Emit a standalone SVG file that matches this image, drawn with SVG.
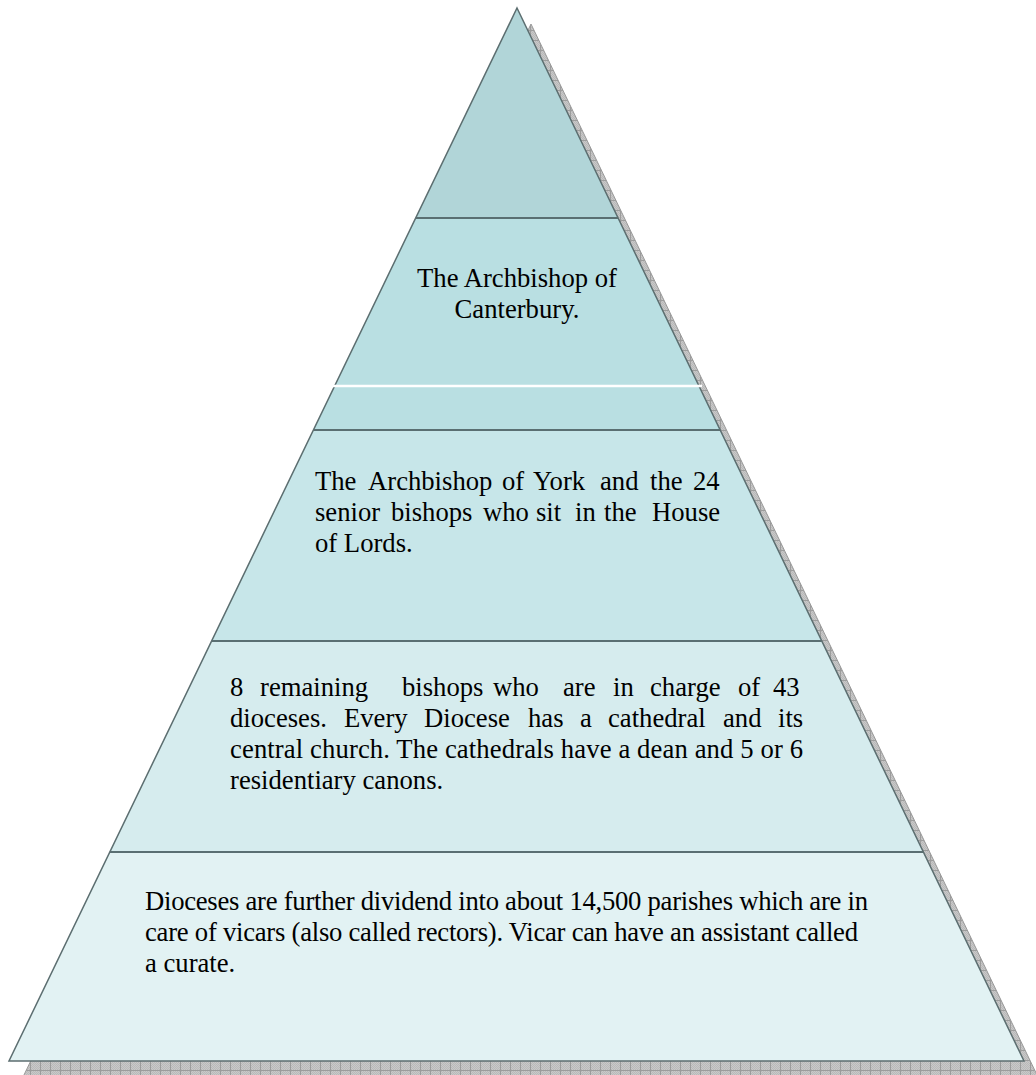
<svg xmlns="http://www.w3.org/2000/svg" width="1036" height="1075" viewBox="0 0 1036 1075">
<style>
.t{font-family:"Liberation Serif","Times New Roman",serif;font-size:26.67px;fill:#000}
.div{stroke:#5a6f72;stroke-width:2;fill:none}
.edge{stroke:#5c6e70;stroke-width:1.5;fill:none;stroke-linejoin:miter}
</style>
<defs>
<pattern id="chk" width="2" height="2" patternUnits="userSpaceOnUse">
<rect width="2" height="2" fill="#c9c9c9"/>
<rect width="1" height="1" fill="#b9b9b9"/>
<rect x="1" y="1" width="1" height="1" fill="#b9b9b9"/>
</pattern>
<pattern id="grid" width="10" height="10" patternUnits="userSpaceOnUse">
<rect width="10" height="10" fill="url(#chk)"/>
<path d="M0 0.5H10M0.5 0V10" stroke="#9c9c9c" stroke-width="1"/>
</pattern>
</defs>
<rect width="1036" height="1075" fill="#fff"/>
<g id="shadow">
<polygon points="531,24 1038,1077 23,1077" fill="url(#grid)" stroke="#999" stroke-width="1"/>
</g>
<g id="level-top">
<polygon points="517,8 618.1,218 415.7,218" fill="#b1d5d8"/>
</g>
<g id="level-canterbury">
<polygon points="415.7,218 618.1,218 720.2,430 313.4,430" fill="#b9dfe2"/>
<text class="t" x="517" y="287" text-anchor="middle">The Archbishop of</text>
<text class="t" x="517" y="318" text-anchor="middle">Canterbury.</text>
</g>
<g id="level-york">
<polygon points="313.4,430 720.2,430 821.8,641 211.6,641" fill="#c7e6e9"/>
<text class="t" y="490"><tspan x="315">The</tspan><tspan x="368">Archbishop</tspan><tspan x="502">of</tspan><tspan x="533">York</tspan><tspan x="600">and</tspan><tspan x="650">the</tspan><tspan x="693">24</tspan></text>
<text class="t" y="521"><tspan x="315">senior</tspan><tspan x="391">bishops</tspan><tspan x="483">who</tspan><tspan x="536">sit</tspan><tspan x="575">in</tspan><tspan x="604">the</tspan><tspan x="652">House</tspan></text>
<text class="t" x="315" y="552">of Lords.</text>
</g>
<g id="level-bishops">
<polygon points="211.6,641 821.8,641 923.4,852 109.8,852" fill="#d6ecee"/>
<text class="t" y="696"><tspan x="230">8</tspan><tspan x="260">remaining</tspan><tspan x="402">bishops</tspan><tspan x="493">who</tspan><tspan x="563">are</tspan><tspan x="613">in</tspan><tspan x="650">charge</tspan><tspan x="738">of</tspan><tspan x="773">43</tspan></text>
<text class="t" y="727"><tspan x="230">dioceses.</tspan><tspan x="344">Every</tspan><tspan x="424">Diocese</tspan><tspan x="528">has</tspan><tspan x="580">a</tspan><tspan x="608">cathedral</tspan><tspan x="723">and</tspan><tspan x="778">its</tspan></text>
<text class="t" x="230" y="758" textLength="573" lengthAdjust="spacing">central church. The cathedrals have a dean and 5 or 6</text>
<text class="t" x="230" y="789">residentiary canons.</text>
</g>
<g id="level-dioceses">
<polygon points="109.8,852 923.4,852 1024,1061 9,1061" fill="#e2f2f3"/>
<text class="t" x="145" y="910" textLength="723" lengthAdjust="spacing">Dioceses are further dividend into about 14,500 parishes which are in</text>
<text class="t" x="145" y="941" textLength="713" lengthAdjust="spacing">care of vicars (also called rectors). Vicar can have an assistant called</text>
<text class="t" x="145" y="972">a curate.</text>
</g>
<g id="dividers">
<line class="div" x1="415.7" y1="218" x2="618.1" y2="218"/>
<line class="div" x1="313.4" y1="430" x2="720.2" y2="430"/>
<line class="div" x1="211.6" y1="641" x2="821.8" y2="641"/>
<line class="div" x1="109.8" y1="852" x2="923.4" y2="852"/>
<polygon class="edge" points="517,8 1024,1061 9,1061"/>
<line x1="332" y1="386" x2="702" y2="386" stroke="#fff" stroke-width="2.5"/>
</g>
</svg>
